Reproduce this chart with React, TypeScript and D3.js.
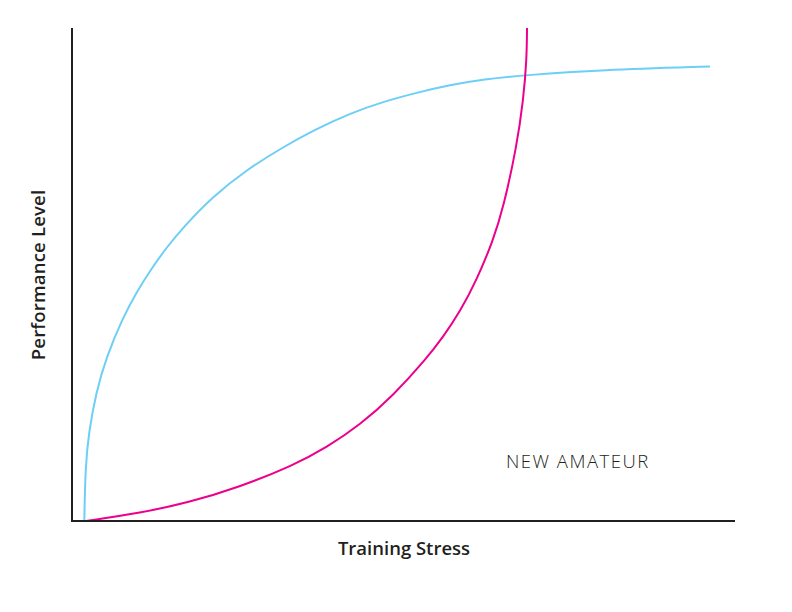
import React from "react";
import * as d3 from "d3";

const blueX = [1.855, 2.021, 2.519, 3.605, 5.173, 7.722, 9.653, 12.14, 14.33, 16.82, 21.12, 26.4, 31.6, 36.65, 41.93, 46.95, 51.99, 57.01, 62.04, 68.58, 79.64, 96.23];
const blueY = [0, 10.95, 17.85, 25.96, 33.27, 41.38, 46.25, 51.52, 55.58, 59.63, 65.72, 71.3, 75.66, 79.41, 82.7, 85.05, 86.88, 88.44, 89.59, 90.47, 91.48, 92.19];
const pinkX = [2.112, 10.06, 17.6, 25.14, 33.38, 38.42, 43.44, 48.46, 53.5, 56.0, 58.52, 61.04, 63.54, 65.05, 67.07, 68.07, 68.58, 68.63];
const pinkY = [0, 1.562, 3.753, 6.836, 11.26, 14.95, 19.47, 25.46, 33.0, 37.38, 42.45, 48.88, 57.0, 63.49, 75.92, 85.4, 93.51, 100];

const xLabel = "Training Stress";
const yLabel = "Performance Level";
const annotation = "NEW AMATEUR";

export default function App() {
  const W = 792, H = 612;
  const x = d3.scaleLinear().domain([0, 100]).range([72, 735]);
  const y = d3.scaleLinear().domain([0, 100]).range([521, 28]);
  const line = d3.line<[number, number]>().x(d => x(d[0])).y(d => y(d[1])).curve(d3.curveBasis);
  const blue = blueX.map((v, i) => [v, blueY[i]] as [number, number]);
  const pink = pinkX.map((v, i) => [v, pinkY[i]] as [number, number]);
  const font = "'Open Sans', Lato, sans-serif";
  return (
    <svg width={W} height={H} style={{ position: "absolute", left: 0, top: 0 }}>
      <rect width={W} height={H} fill="#fff" />
      <path d={line(blue) || ""} fill="none" stroke="#6dcff6" strokeWidth={2} />
      <path d={line(pink) || ""} fill="none" stroke="#ec008c" strokeWidth={2} />
      <line x1={x(0)} x2={x(0)} y1={y(100)} y2={y(0) + 1} stroke="#231f20" strokeWidth={2} />
      <line x1={x(0) - 1} x2={x(100)} y1={y(0)} y2={y(0)} stroke="#231f20" strokeWidth={2} />
      <text x={404} y={555} textAnchor="middle" fontFamily={font} fontWeight={600} fontSize={18.5} fill="#231f20">{xLabel}</text>
      <text transform="translate(45,275) rotate(-90)" textAnchor="middle" fontFamily={font} fontWeight={600} fontSize={18.5} letterSpacing={0.2} fill="#231f20">{yLabel}</text>
      <text x={506} y={468} fontFamily={font} fontWeight={300} fontSize={18.5} letterSpacing={1.5} fill="#231f20">{annotation}</text>
    </svg>
  );
}
